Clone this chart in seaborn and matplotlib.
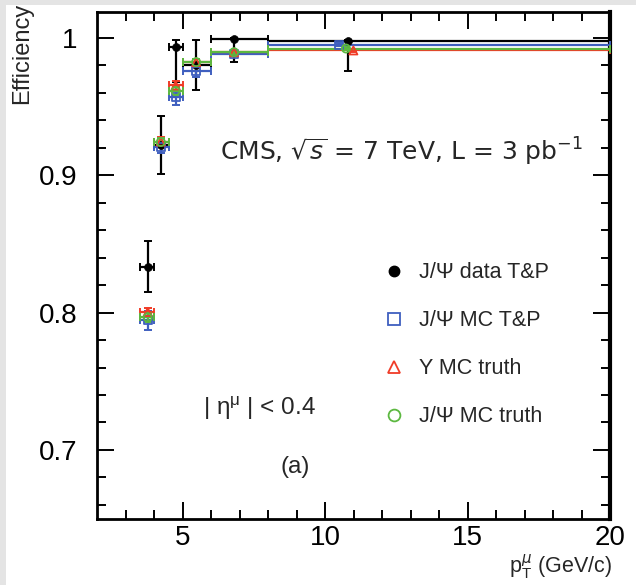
import numpy as np
import pandas as pd
import matplotlib
matplotlib.use("Agg")
import matplotlib.pyplot as plt
import seaborn as sns
from matplotlib.lines import Line2D
from matplotlib.patches import Rectangle

# ---- data ----
bin_lo = [3.5, 4.0, 4.5, 5.0, 6.0, 8.0]
bin_hi = [4.0, 4.5, 5.0, 6.0, 8.0, 20.0]

data_x = [3.77, 4.23, 4.75, 5.47, 6.80, 10.81]
data_eff = [0.833, 0.922, 0.993, 0.980, 0.9988, 0.9975]
data_err_lo = [0.018, 0.021, 0.025, 0.018, 0.0165, 0.022]
data_err_hi = [0.019, 0.021, 0.0055, 0.0185, 0.0010, 0.0010]

mctp_x = [3.77, 4.23, 4.75, 5.47, 6.80, 10.49]
mctp_eff = [0.7944, 0.9204, 0.9568, 0.9757, 0.9884, 0.9949]
mctp_err = [0.0068, 0.004, 0.0055, 0.004, 0.0015, 0.001]

ups_x = [3.77, 4.23, 4.75, 5.47, 6.80, 10.99]
ups_eff = [0.8004, 0.9245, 0.9653, 0.9823, 0.9895, 0.9908]
ups_err = [0.003, 0.003, 0.003, 0.002, 0.001, 0.001]

jpsi_x = [3.77, 4.23, 4.75, 5.47, 6.80, 10.73]
jpsi_eff = [0.7964, 0.9241, 0.9612, 0.9823, 0.9895, 0.9922]
jpsi_err = [0.003, 0.003, 0.003, 0.002, 0.001, 0.001]

labels = ["J/Ψ data T&P", "J/Ψ MC T&P", "Υ MC truth", "J/Ψ MC truth"]
colors = ["#000000", "#3f5fbf", "#f03c28", "#5cb840"]

x_ticks = [5, 10, 15, 20]
y_ticks = [0.7, 0.8, 0.9, 1.0]
y_ticklabels = ["0.7", "0.8", "0.9", "1"]

# ---- style ----
sns.set_theme(style="ticks")
plt.rcParams['font.family'] = ['Liberation Sans', 'DejaVu Sans']
plt.rcParams['mathtext.fontset'] = 'dejavusans'

fig = plt.figure(figsize=(6.36, 5.85), dpi=100)
fig.patch.set_facecolor("#e4e4e4")
fig.patches.append(Rectangle((6 / 636, 0), 1, 1 - 5 / 585, transform=fig.transFigure,
                             facecolor="white", edgecolor="none", zorder=-10))
ax = fig.add_axes([97.3 / 636, 1 - 519.3 / 585, 512.7 / 636, 507.6 / 585])
ax.set_facecolor("white")

series = [
    (data_x, data_eff, (data_err_lo, data_err_hi)),
    (mctp_x, mctp_eff, (mctp_err, mctp_err)),
    (ups_x, ups_eff, (ups_err, ups_err)),
    (jpsi_x, jpsi_eff, (jpsi_err, jpsi_err)),
]

rows = []
for (xs, ys, _), lab in zip(series, labels):
    for xv, yv in zip(xs, ys):
        rows.append({"pt": xv, "eff": yv, "series": lab})
df = pd.DataFrame(rows)

for i, ((xs, ys, yerr), lab, col) in enumerate(zip(series, labels, colors)):
    xs = np.array(xs)
    xlo = xs - np.array(bin_lo)
    xhi = np.array(bin_hi) - xs
    ax.errorbar(xs, ys, xerr=[xlo, xhi], yerr=[yerr[0], yerr[1]], fmt="none",
                ecolor=col, elinewidth=1.6, capsize=3, capthick=1.4, zorder=2 + i)

sub = df[df.series == labels[0]]
sns.scatterplot(data=sub, x="pt", y="eff", ax=ax, marker="o", color="black",
                s=32, edgecolor="black", linewidth=0.5, zorder=10, legend=False)
mk_map = {labels[1]: "s", labels[2]: "^", labels[3]: "o"}
for lab, col in zip(labels[1:], colors[1:]):
    sub = df[df.series == lab]
    sns.scatterplot(data=sub, x="pt", y="eff", ax=ax, marker=mk_map[lab],
                    facecolor="none", edgecolor=col, linewidth=1.3, s=34,
                    zorder=11, legend=False)

ax.set_xlim(2, 20)
ax.set_ylim(0.6495, 1.019)
ax.set_xticks(x_ticks)
ax.set_xticks(np.arange(3, 20, 1), minor=True)
ax.set_yticks(y_ticks)
ax.set_yticklabels(y_ticklabels)
ax.set_yticks(np.arange(0.66, 1.02, 0.02), minor=True)
ax.tick_params(which="both", direction="in", top=True, right=True, colors="black",
               labelsize=20)
ax.tick_params(which="major", length=12, width=1.4)
ax.tick_params(which="minor", length=6.5, width=1.4)
ax.tick_params(axis="x", pad=4)
ax.tick_params(axis="y", pad=14)
for sp in ax.spines.values():
    sp.set_linewidth(2)
    sp.set_color("black")
ax.spines["right"].set_linewidth(3)

ax.set_xlabel(r"p$_\mathregular{T}^{\mu}$ (GeV/c)", fontsize=15.5, loc="right")
ax.xaxis.set_label_coords(1.003, -0.066)
ax.set_ylabel("Efficiency", fontsize=17, loc="top")
ax.yaxis.set_label_coords(-0.125, 1.018)

ax.text(0.239, 0.7236, r"CMS, $\sqrt{s}$ = 7 TeV, L = 3 pb$^{-1}$", transform=ax.transAxes,
        fontsize=18, va="center", ha="left", family=["DejaVu Sans"])
ax.text(0.207, 0.218, r"| $\mathregular{\eta^{\mu}}$ | < 0.4", transform=ax.transAxes,
        fontsize=17.5, va="center", ha="left")
ax.text(0.386, 0.103, "(a)", transform=ax.transAxes, fontsize=17.5, va="center", ha="center")

handles = [
    Line2D([], [], ls="none", marker="o", color="black", markersize=7.5),
    Line2D([], [], ls="none", marker="s", mfc="none", mec=colors[1], mew=1.3, markersize=8.5),
    Line2D([], [], ls="none", marker="^", mfc="none", mec=colors[2], mew=1.3, markersize=8.5),
    Line2D([], [], ls="none", marker="o", mfc="none", mec=colors[3], mew=1.3, markersize=8.5),
]
leg = ax.legend(handles, labels, loc="upper left", bbox_to_anchor=(0.54, 0.523),
                frameon=False, fontsize=15.5, labelspacing=1.25, handletextpad=0.7,
                handlelength=1.0, borderaxespad=0)

fig.savefig("out.png", dpi=100, facecolor=fig.get_facecolor())
